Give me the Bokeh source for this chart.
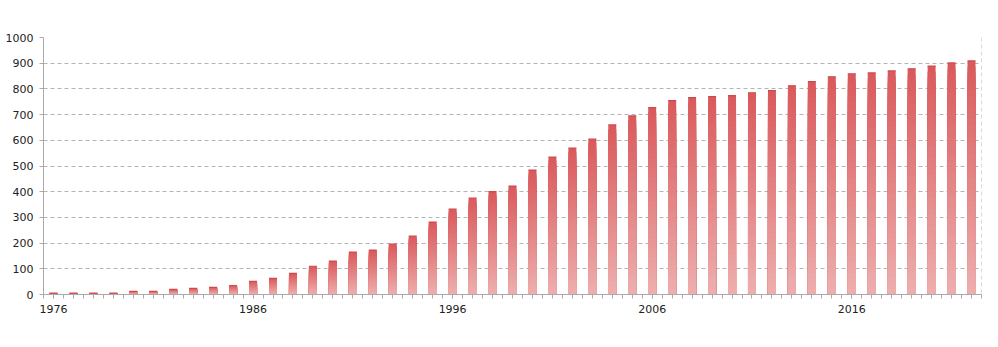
from bokeh.plotting import figure
from bokeh.models import FixedTicker, Range1d, Span
from bokeh.embed import file_html
from bokeh.resources import INLINE

years = list(range(1976, 2023))
values = [5, 5, 5, 5, 12, 12, 20, 24, 28, 35,
          51, 63, 82, 110, 130, 165, 173, 196, 227, 282,
          332, 375, 400, 422, 484, 535, 570, 605, 660, 695,
          727, 754, 766, 770, 774, 785, 793, 812, 828, 847,
          859, 862, 870, 878, 889, 901, 909]
label_years = [1976, 1986, 1996, 2006, 2016]
y_ticks = list(range(0, 1001, 100))

top_rgb = (218, 90, 92)
bot_rgb = (237, 174, 174)
N = 40

p = figure(width=990, height=339, output_backend="svg", toolbar_location=None,
           x_range=Range1d(years[0] - 0.5, years[-1] + 0.5), y_range=Range1d(0, 1000),
           min_border_left=43, min_border_right=9, min_border_top=37, min_border_bottom=45)
p.outline_line_color = None
p.background_fill_color = "white"
p.border_fill_color = "white"

# gradient: paint full-height dark bar first, then progressively shorter lighter bars
xs, tops, cols = [], [], []
for k in range(N):
    t = 1 - k / (N - 1)
    c = tuple(int(round(bot_rgb[i] + (top_rgb[i] - bot_rgb[i]) * t)) for i in range(3))
    for yr, v in zip(years, values):
        xs.append(yr)
        tops.append(v * (N - k) / N)
        cols.append("#%02x%02x%02x" % c)
p.vbar(x=xs, bottom=0, top=tops, width=0.4, fill_color=cols, line_color=None)
p.segment(x0=[y - 0.2 for y in years], x1=[y + 0.2 for y in years], y0=values, y1=values,
          line_color="#cc4a4c", line_width=1.2)

p.xgrid.visible = False
p.ygrid.grid_line_color = "#b4b4b4"
p.ygrid.grid_line_dash = "4 3"
p.ygrid.grid_line_width = 1
p.yaxis.ticker = FixedTicker(ticks=y_ticks)
p.add_layout(Span(location=years[-1] + 0.5, dimension="height", line_color="#b4b4b4",
                  line_dash="4 3", line_width=1))

minor = [years[0] - 0.5 + 0.5 * i for i in range(2 * len(years) + 1)]
p.xaxis.ticker = FixedTicker(ticks=label_years, minor_ticks=minor)

for ax in (p.xaxis, p.yaxis):
    ax.axis_line_color = "#aaaaaa"
    ax.major_tick_line_color = "#aaaaaa"
    ax.minor_tick_line_color = "#aaaaaa"
    ax.major_tick_in = 0
    ax.minor_tick_in = 0
    ax.major_tick_out = 4
    ax.minor_tick_out = 4
    ax.major_label_text_font = "DejaVu Sans"
    ax.major_label_text_font_size = "11px"
    ax.major_label_text_color = "#222222"
p.yaxis.minor_tick_line_color = None
p.xaxis.major_label_standoff = 6
p.yaxis.major_label_standoff = 6

open("out.html", "w").write(file_html(p, INLINE))
